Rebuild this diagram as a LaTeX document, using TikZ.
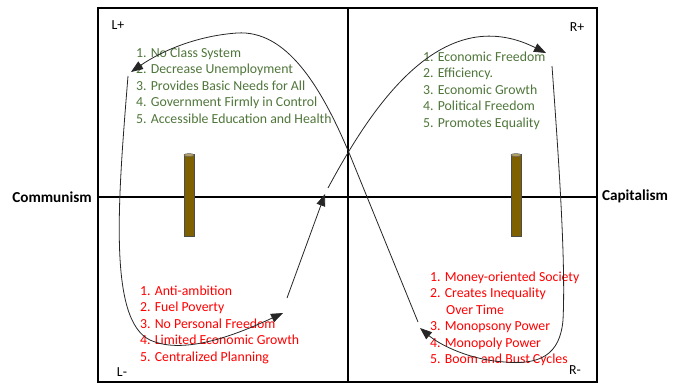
\documentclass[tikz,border=0pt]{standalone}
\usepackage{fontspec}
\setmainfont{Carlito}
\usepackage{xcolor}
\usetikzlibrary{arrows.meta}
\definecolor{proGreen}{RGB}{79,118,58}
\definecolor{conRed}{RGB}{255,0,0}
\definecolor{postBrown}{RGB}{127,96,0}
\tikzset{
  frame line/.style = {line width=1.6pt, black}
}
\tikzset{
  every node/.style = {font = \fontsize{13.8}{16.5}\selectfont, inner sep=0pt}
}
\tikzset{
    >={Triangle[length=12pt, width=9pt]}
}
\tikzset{
  pro list/.style = {align=left, anchor=north west, text=proGreen},
  con list/.style = {align=left, anchor=north west, text=conRed},
  corner/.style = {text=black},
  side/.style = {font = \fontsize{15.2}{17}\selectfont\bfseries},
  flow/.style = {->, line width=0.8pt, black!85}
}
\newcommand{\drawpost}[1]{
  \draw[fill=postBrown, draw=black!70, line width=0.6pt]
    (#1-5,154) rectangle (#1+5,236);
  \draw[fill=postBrown!60!white, draw=black!60, line width=0.5pt]
    (#1,155) ellipse (5 and 1.5);
}

\begin{document}
\begin{tikzpicture}[x=1pt, y=-1pt]
  \useasboundingbox (0,0) rectangle (682,383);

  % quadrants
  \draw[frame line] (98,8) rectangle (597,382);
  \draw[frame line] (348,8) -- (348,382);
  \draw[frame line] (98,197) -- (597,197);

  \drawpost{189}
  \drawpost{516}

  \node[side] (communism) at (52,197) {Communism};
  \node[side] (capitalism) at (635,196) {Capitalism};

  \node[corner] (lPlus) at (118,25) {L+};
  \node[corner] (rPlus) at (577,27) {R+};
  \node[corner] (lMinus) at (122,372) {L-};
  \node[corner] (rMinus) at (575,370) {R-};

  \node[pro list] (leftPros) at (136,47.5) {1. No Class System\\
    2. Decrease Unemployment\\3. Provides Basic Needs for All\\
    4. Government Firmly in Control\\5. Accessible Education and Health};
  \node[pro list] (rightPros) at (423,51.5) {1. Economic Freedom\\
    2. Efficiency.\\3. Economic Growth\\4. Political Freedom\\
    5. Promotes Equality};
  \node[con list] (leftCons) at (140,285.5) {1. Anti-ambition\\
    2. Fuel Poverty\\3. No Personal Freedom\\
    4. Limited Economic Growth\\5. Centralized Planning};
  \node[con list] (rightCons) at (430,271.5) {1. Money-oriented Society\\
    2. Creates Inequality\\\hspace*{16pt}Over Time\\3. Monopsony Power\\
    4. Monopoly Power\\5. Boom and Bust Cycles};

  % the cycle
  \coordinate (aStart) at (287,298);
  \coordinate (aEnd) at (325,194);
  \coordinate (bStart) at (328,188);
  \coordinate (bEnd) at (546,53);
  \coordinate (cStart) at (552,66);
  \coordinate (cEnd) at (420,328);
  \coordinate (dStart) at (418,322);
  \coordinate (dEnd) at (131,72);
  \coordinate (eStart) at (128,76);
  \coordinate (eEnd) at (283,313);

  \draw[flow] (aStart) -- (aEnd);
  \draw[flow] (bStart) .. controls (370,110) and (440,0) .. (bEnd);
  \draw[flow] (cStart) .. controls (558,150) and (566,260) .. (563,320)
    .. controls (560,355) and (540,365) .. (505,362)
    .. controls (470,360) and (440,345) .. (cEnd);
  \draw[flow] (dStart) -- (352,160) .. controls (320,82) and (285,30) .. (237,33)
    .. controls (195,36) and (160,52) .. (dEnd);
  \draw[flow] (eStart) .. controls (118,200) and (108,320) .. (150,340)
    .. controls (185,356) and (240,333) .. (eEnd);
\end{tikzpicture}
\end{document}
